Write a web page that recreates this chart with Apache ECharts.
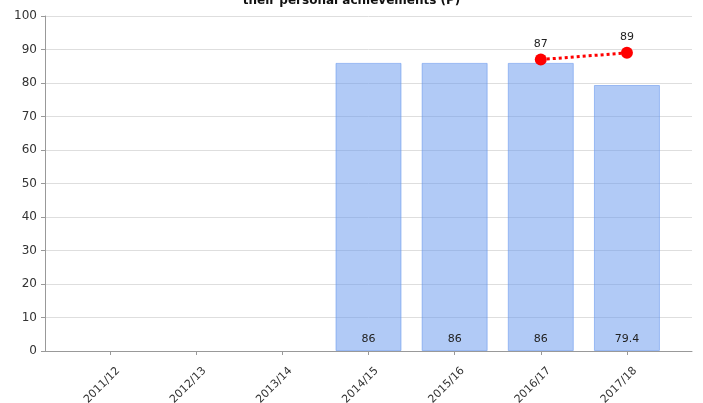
<!DOCTYPE html>
<html><head><meta charset="utf-8">
<script src="https://cdn.jsdelivr.net/npm/echarts@6/dist/echarts.min.js"></script>
<style>html,body{margin:0;padding:0;background:#fff}#c{width:703px;height:403px}</style>
</head><body><div id="c"></div>
<script>
const titleText = "their personal achievements (P)";
const categories = ["2011/12","2012/13","2013/14","2014/15","2015/16","2016/17","2017/18"];
const barValues = [null,null,null,86,86,86,79.4];
const lineValues = [null,null,null,null,null,87,89];
const yTicks = {min:0,max:100,interval:10};
const font = "DejaVu Sans, Verdana, sans-serif";
const chart = echarts.init(document.getElementById('c'));
chart.setOption({
  animation:false,
  title:{text:titleText,left:'center',top:-10,textStyle:{fontFamily:font,fontSize:12,fontWeight:'bold',color:'#111'}},
  grid:[
    {left:45,right:11,top:16,bottom:52,containLabel:false,outerBoundsMode:'none'},
    {left:67,right:33,top:16,bottom:52,containLabel:false,outerBoundsMode:'none'}
  ],
  xAxis:[
    {gridIndex:0,type:'value',min:0,max:1,axisLine:{show:true,lineStyle:{color:'#999',width:1}},axisTick:{show:false},axisLabel:{show:false},splitLine:{show:false}},
    {gridIndex:1,type:'category',data:categories,boundaryGap:true,axisLine:{show:false},
     axisTick:{show:true,alignWithLabel:true,length:4,lineStyle:{color:'#999'}},
     axisLabel:{rotate:45,fontFamily:font,fontSize:11,color:'#333',margin:10,interval:0,verticalAlign:'top',padding:[6,0,0,0]}}
  ],
  yAxis:[
    {gridIndex:0,type:'value',min:yTicks.min,max:yTicks.max,interval:yTicks.interval,
     axisLine:{show:true,lineStyle:{color:'#999'}},axisTick:{show:true,length:4,lineStyle:{color:'#999'}},
     axisLabel:{fontFamily:font,fontSize:12,color:'#333',margin:8},
     splitLine:{show:true,lineStyle:{color:'#dedede'}}},
    {gridIndex:1,type:'value',min:yTicks.min,max:yTicks.max,show:false,splitLine:{show:false}}
  ],
  series:[
    {type:'bar',xAxisIndex:1,yAxisIndex:1,data:barValues,barWidth:66,
     itemStyle:{color:'rgba(100,149,237,0.5)',borderColor:'rgba(100,149,237,0.55)',borderWidth:1},
     label:{show:true,position:'insideBottom',distance:6,fontFamily:font,fontSize:11,color:'#222'}},
    {type:'line',xAxisIndex:1,yAxisIndex:1,data:lineValues,connectNulls:false,
     symbol:'circle',symbolSize:12,itemStyle:{color:'#ff0000'},
     lineStyle:{color:'#ff0000',width:3,type:'dotted'},
     label:{show:true,position:'top',distance:4,fontFamily:font,fontSize:11,color:'#222'}}
  ]
});
</script></body></html>
